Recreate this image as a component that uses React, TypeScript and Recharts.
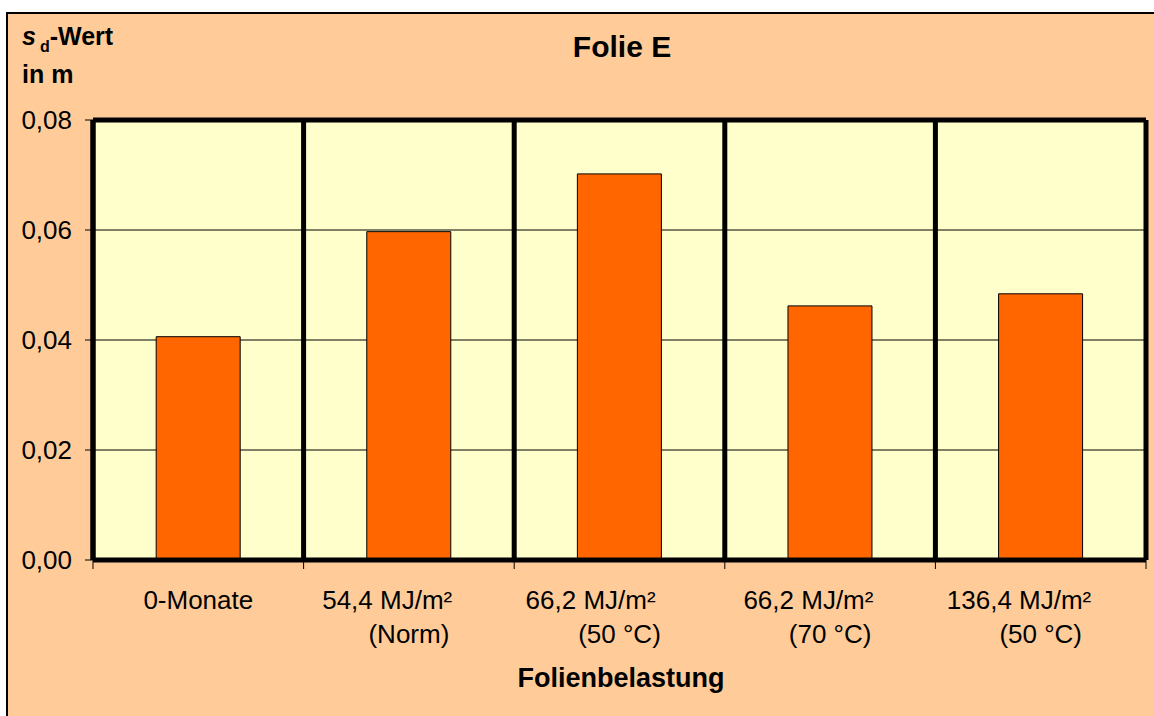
import React from "react";
import { BarChart, Bar, XAxis, YAxis, CartesianGrid, ReferenceLine } from "recharts";

// Excel-style category labels: line 1 carries trailing blanks, as in the original sheet
const categories = [
  "0-Monate",
  "54,4 MJ/m²      \n(Norm)",
  "66,2 MJ/m²        \n(50 °C)",
  "66,2 MJ/m²      \n(70 °C)",
  "136,4 MJ/m²      \n(50 °C)",
];
const sdValues = [0.0406, 0.0597, 0.0702, 0.0462, 0.0484];
const yTicks = [0, 0.02, 0.04, 0.06, 0.08];

const data = categories.map((name, i) => ({ name, sd: sdValues[i] }));

const FONT = "'Liberation Sans', Arial, sans-serif";

function CategoryTick(props: any) {
  const { x, y, payload, index, width } = props;
  const half = payload?.offset || width / categories.length / 2;
  const [line1, line2] = String(payload.value).split("\n");
  const textStyle = { whiteSpace: "pre" as const };
  return (
    <g>
      <line x1={x - half} x2={x - half} y1={y} y2={y + 9} stroke="#000" strokeWidth={1} />
      {index === categories.length - 1 && (
        <line x1={x + half} x2={x + half} y1={y} y2={y + 9} stroke="#000" strokeWidth={1} />
      )}
      <text x={x} y={y + 49} textAnchor="middle" fontSize={26} fontFamily={FONT} fill="#000" xmlSpace="preserve" style={textStyle}>
        {line1}
      </text>
      {line2 && (
        <text x={x} y={y + 83} textAnchor="middle" fontSize={26} fontFamily={FONT} fill="#000" xmlSpace="preserve" style={textStyle}>
          {line2}
        </text>
      )}
    </g>
  );
}

export default function App() {
  return (
    <div style={{ position: "absolute", left: 0, top: 0, width: 1154, height: 716, overflow: "hidden", background: "#fff" }}>
      <div
        style={{
          position: "absolute",
          left: 6,
          top: 12,
          width: 1200,
          height: 800,
          background: "#FFCC99",
          border: "2px solid #000",
          boxSizing: "border-box",
        }}
      />
      <div style={{ position: "absolute", left: 0, top: 0 }}>
        <BarChart
          width={1154}
          height={716}
          data={data}
          margin={{ top: 120, right: 8, bottom: 96, left: 13 }}
          barCategoryGap="30%"
        >
          <CartesianGrid vertical={false} stroke="#000" strokeWidth={1} fill="#FFFFCC" fillOpacity={1} />
          <CartesianGrid
            horizontal={false}
            stroke="#000"
            strokeWidth={5}
            verticalCoordinatesGenerator={({ offset }: any) =>
              Array.from({ length: categories.length + 1 }, (_, i) => offset.left + (i * offset.width) / categories.length)
            }
          />
          <ReferenceLine y={0.08} stroke="#000" strokeWidth={5} />
          <XAxis
            dataKey="name"
            height={60}
            interval={0}
            tickLine={false}
            tickSize={0}
            tickMargin={0}
            axisLine={{ stroke: "#000", strokeWidth: 5 }}
            tick={<CategoryTick />}
          />
          <YAxis
            width={80}
            type="number"
            domain={[0, 0.08]}
            ticks={yTicks}
            tickFormatter={(v: number) => v.toFixed(2).replace(".", ",")}
            tickSize={8}
            tickMargin={13}
            axisLine={{ stroke: "#000", strokeWidth: 5 }}
            tickLine={{ stroke: "#000", strokeWidth: 1 }}
            tick={{ fill: "#000", fontSize: 26, fontFamily: FONT }}
          />
          <Bar dataKey="sd" fill="#FF6600" stroke="#000" strokeWidth={1} isAnimationActive={false} />
        </BarChart>
      </div>
      <svg width={1154} height={716} style={{ position: "absolute", left: 0, top: 0, pointerEvents: "none" }}>
        <text x={622} y={57} textAnchor="middle" fontSize={30} fontWeight="bold" fontFamily={FONT} fill="#000">
          Folie E
        </text>
        <text x={22} y={45} fontSize={25} fontWeight="bold" fontFamily={FONT} fill="#000">
          <tspan fontStyle="italic">s</tspan>
          <tspan fontSize={16} dx={4} dy={7}>d</tspan>
          <tspan dy={-7}>-Wert</tspan>
        </text>
        <text x={22} y={83} fontSize={25} fontWeight="bold" fontFamily={FONT} fill="#000">
          in m
        </text>
        <text x={621} y={687} textAnchor="middle" fontSize={27} fontWeight="bold" fontFamily={FONT} fill="#000">
          Folienbelastung
        </text>
      </svg>
    </div>
  );
}
